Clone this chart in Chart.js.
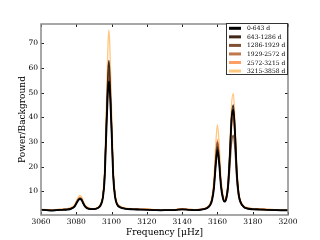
<!DOCTYPE html>
<html>
<head>
<meta charset="utf-8">
<script src="https://cdn.jsdelivr.net/npm/chart.js@4/dist/chart.umd.min.js"></script>
<style>
  html, body { margin: 0; padding: 0; background: #fff; }
  #wrap { width: 320px; height: 240px; }
</style>
</head>
<body>
<div id="wrap"><canvas id="chart" width="320" height="240"></canvas></div>
<script>
// Data

var freq = [3060, 3063, 3066, 3069, 3072, 3075, 3077, 3079,
	3080, 3081, 3082, 3083, 3084, 3085, 3087, 3089,
	3091, 3093, 3094, 3095, 3096, 3097, 3098, 3098.5,
	3099, 3100, 3101, 3102, 3103, 3105, 3108, 3112,
	3116, 3120, 3124, 3128, 3132, 3136, 3140, 3144,
	3148, 3151, 3154, 3156, 3157, 3158, 3159, 3160,
	3161, 3162, 3163, 3164, 3165, 3166, 3167, 3168,
	3169, 3170, 3171, 3172, 3173, 3175, 3177, 3180,
	3184, 3188, 3192, 3196, 3200];

var labels = ["0-643 d", "643-1286 d", "1286-1929 d", "1929-2572 d", "2572-3215 d", "3215-3858 d"];

var p0 = [2.5, 2.4, 2.2, 2.4, 2.5, 2.6, 2.9, 3.8,
	5.0, 6.2, 6.8, 6.5, 5.0, 3.8, 2.9, 2.8,
	2.9, 3.6, 4.6, 7.0, 14, 33, 51, 54.5,
	51, 34, 15, 7.5, 4.8, 3.4, 2.9, 2.7,
	2.6, 2.5, 2.4, 2.3, 2.4, 2.4, 2.7, 2.5,
	2.4, 2.6, 3.1, 4.5, 6.5, 11, 20, 26.7,
	21, 12, 7.5, 5.8, 7, 12, 24, 39,
	43.2, 33, 17, 9, 5.8, 3.6, 3.0, 2.7,
	2.6, 2.5, 2.4, 2.3, 2.3];

var p1 = [2.6, 2.5, 2.3, 2.5, 2.6, 2.7, 3.0, 3.9,
	5.1, 6.4, 7.0, 6.6, 5.1, 3.9, 3.0, 2.9,
	3.0, 3.8, 4.9, 7.6, 16, 38, 59, 63,
	58, 38, 17, 8.2, 5.1, 3.6, 3.0, 2.8,
	2.7, 2.6, 2.5, 2.4, 2.5, 2.5, 2.8, 2.6,
	2.5, 2.7, 3.2, 4.7, 6.8, 11.5, 21, 28,
	22, 12.5, 7.8, 6.0, 7.3, 12.5, 25, 40.5,
	45, 34.5, 18, 9.4, 6.0, 3.7, 3.1, 2.8,
	2.7, 2.6, 2.5, 2.4, 2.4];

var p2 = [2.5, 2.4, 2.4, 2.3, 2.5, 2.7, 3.1, 4.0,
	5.3, 6.6, 7.2, 6.8, 5.3, 4.0, 3.0, 2.8,
	2.9, 3.7, 4.8, 7.4, 15.5, 36, 56, 60,
	55, 36, 16, 8.0, 5.0, 3.5, 2.9, 2.7,
	2.6, 2.7, 2.4, 2.4, 2.3, 2.5, 2.6, 2.5,
	2.4, 2.6, 3.2, 4.8, 7.1, 12.5, 23, 30,
	23.5, 13, 8, 6.0, 6.8, 10.5, 19, 29.5,
	32.8, 26, 14, 7.8, 5.4, 3.6, 3.0, 2.8,
	2.6, 2.5, 2.5, 2.4, 2.3];

var p3 = [2.6, 2.5, 2.4, 2.5, 2.6, 2.8, 3.1, 4.1,
	5.4, 6.7, 7.3, 6.9, 5.4, 4.1, 3.1, 2.9,
	3.0, 3.8, 4.9, 7.5, 15.5, 35, 54, 58,
	53, 35, 16, 8.0, 5.1, 3.6, 3.0, 2.8,
	2.7, 2.6, 2.5, 2.5, 2.4, 2.5, 2.7, 2.6,
	2.5, 2.7, 3.3, 4.9, 7.2, 12.5, 23, 30,
	23.5, 13.2, 8.2, 6.2, 7.4, 12, 22.5, 36,
	40, 31, 16.5, 8.8, 5.9, 3.8, 3.2, 2.9,
	2.7, 2.6, 2.5, 2.5, 2.4];

var p4 = [2.7, 2.6, 2.5, 2.6, 2.7, 2.9, 3.2, 4.2,
	5.5, 6.9, 7.5, 7.1, 5.6, 4.2, 3.2, 3.0,
	3.1, 3.9, 5.0, 7.7, 16, 36, 55, 59,
	54, 36, 16.5, 8.3, 5.2, 3.7, 3.1, 2.9,
	2.8, 2.8, 2.6, 2.6, 2.5, 2.6, 2.9, 2.7,
	2.6, 2.8, 3.4, 5.0, 7.4, 13, 24, 31,
	24.5, 13.8, 8.5, 6.4, 7.7, 12.8, 24, 38,
	42, 32.5, 17.5, 9.2, 6.1, 3.9, 3.3, 3.0,
	2.9, 2.7, 2.6, 2.6, 2.5];

var p5 = [2.7, 2.6, 2.5, 2.6, 2.8, 3.0, 3.4, 4.5,
	6.0, 7.5, 8.3, 7.8, 6.0, 4.4, 3.3, 3.0,
	3.1, 4.0, 5.4, 8.6, 19, 44, 70, 75.5,
	69, 44, 19.5, 9.5, 5.8, 3.9, 3.2, 2.9,
	2.8, 2.9, 2.6, 2.6, 2.5, 2.6, 2.9, 2.8,
	2.6, 2.8, 3.5, 5.4, 8.2, 15, 28.5, 37,
	29, 16, 9.5, 6.8, 8.4, 14.5, 28, 45,
	49.7, 38, 20, 10.2, 6.6, 4.1, 3.4, 3.0,
	2.9, 2.8, 2.7, 2.6, 2.5];

var xTicks = [3060, 3080, 3100, 3120, 3140, 3160, 3180, 3200];
var yTicks = [10, 20, 30, 40, 50, 60, 70];

// copper colormap, dark to light
var colors = ["#000000", "#402819", "#805033", "#bf774c", "#ff9f65", "#ffc77f"];
var series = [p0, p1, p2, p3, p4, p5];

var SERIF = "'DejaVu Serif', 'Liberation Serif', serif";

function toPoints(vals)
{
	let pts = [];
	for(let i=0;i<freq.length;i++)
	{
		pts.push({x: freq[i], y: vals[i]});
	}
	return pts;
}

var datasets = [];
for(let i=0;i<series.length;i++)
{
	datasets.push({
		label: labels[i],
		data: toPoints(series[i]),
		borderColor: colors[i],
		borderWidth: i == 0 ? 1.8 : 1.3,
		pointRadius: 0,
		fill: false,
		cubicInterpolationMode: "monotone"
	});
}

// frame, inward ticks and legend box, matplotlib style
var framePlugin = {
	id: "frame",
	afterDraw: function(chart){
		let ctx = chart.ctx;
		let a = chart.chartArea;
		let xs = chart.scales.x, ys = chart.scales.y;
		ctx.save();
		ctx.strokeStyle = "#222";
		ctx.lineWidth = 1;
		ctx.beginPath();
		for(let v of xTicks)
		{
			let px = Math.round(xs.getPixelForValue(v)) + 0.5;
			ctx.moveTo(px, a.bottom); ctx.lineTo(px, a.bottom - 3);
			ctx.moveTo(px, a.top); ctx.lineTo(px, a.top + 3);
		}
		for(let v of yTicks)
		{
			let py = Math.round(ys.getPixelForValue(v)) + 0.5;
			ctx.moveTo(a.left, py); ctx.lineTo(a.left + 3, py);
			ctx.moveTo(a.right, py); ctx.lineTo(a.right - 3, py);
		}
		ctx.stroke();

		ctx.strokeStyle = "#8a8a8a";
		ctx.lineWidth = 1.5;
		ctx.strokeRect(a.left, a.top, a.right - a.left, a.bottom - a.top);

		// legend
		let bw = 62, bh = 52;
		let bx = a.right - bw, by = a.top - 1;
		ctx.fillStyle = "#fff";
		ctx.fillRect(bx, by, bw, bh);
		ctx.strokeStyle = "#333";
		ctx.lineWidth = 1;
		ctx.strokeRect(bx + 0.5, by + 0.5, bw - 1, bh - 1);
		ctx.font = "6px " + SERIF;
		ctx.textBaseline = "middle";
		ctx.textAlign = "left";
		for(let i=0;i<labels.length;i++)
		{
			let ry = by + 5.3 + i * 8.55;
			ctx.strokeStyle = colors[i];
			ctx.lineWidth = 3;
			ctx.beginPath();
			ctx.moveTo(bx + 3, ry); ctx.lineTo(bx + 15, ry);
			ctx.stroke();
			ctx.fillStyle = "#000";
			ctx.fillText(labels[i], bx + 21, ry + 0.5);
		}
		ctx.restore();
	}
};

window.onload = function(){
	var ctx = document.getElementById("chart").getContext("2d");
	var mychart = new Chart(ctx, {
		type: "line",
		data: { datasets: datasets },
		options: {
			responsive: false,
			animation: false,
			layout: { padding: { left: 17, top: 24, right: 32, bottom: 2 } },
			plugins: {
				legend: { display: false },
				tooltip: { enabled: false }
			},
			scales: {
				x: {
					type: "linear",
					min: 3060,
					max: 3200,
					grid: { display: false, drawTicks: false },
					border: { display: false },
					afterBuildTicks: function(scale){ scale.ticks = xTicks.map(v => ({value: v})); },
					afterFit: function(scale){ scale.height = 23; },
					ticks: {
						padding: 3,
						color: "#000",
						maxRotation: 0,
						font: { family: SERIF, size: 7.5 },
						callback: function(v){ return String(v); }
					},
					title: {
						display: true,
						text: "Frequency [\u03bcHz]",
						color: "#000",
						padding: { top: 0, bottom: 0 },
						font: { family: SERIF, size: 9 }
					}
				},
				y: {
					type: "linear",
					min: 0.4,
					max: 77.8,
					grid: { display: false, drawTicks: false },
					border: { display: false },
					afterBuildTicks: function(scale){ scale.ticks = yTicks.map(v => ({value: v})); },
					afterFit: function(scale){ scale.width = 24; },
					ticks: {
						padding: 3,
						color: "#000",
						font: { family: SERIF, size: 7.5 }
					},
					title: {
						display: true,
						text: "Power/Background",
						color: "#000",
						padding: { top: 0, bottom: 0 },
						font: { family: SERIF, size: 9 }
					}
				}
			}
		},
		plugins: [framePlugin]
	});
};
</script>
</body>
</html>
